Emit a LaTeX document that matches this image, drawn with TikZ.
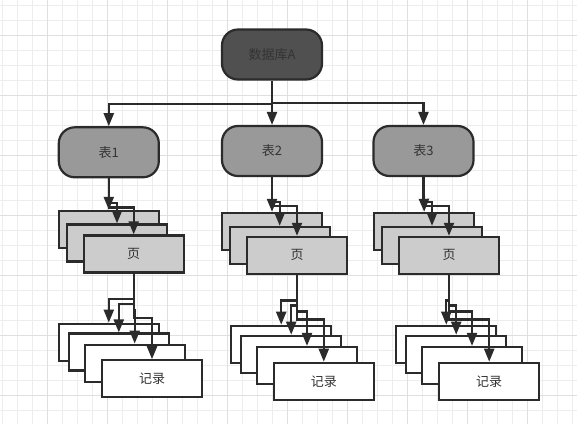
\documentclass[tikz,border=0pt]{standalone}
\usepackage{fontspec}
\setmainfont{Noto Sans CJK SC}
\usetikzlibrary{arrows.meta}
\definecolor{lc}{HTML}{2B2B2B}
\definecolor{tc}{HTML}{333333}
\definecolor{dbfill}{HTML}{505050}
\definecolor{tfill}{HTML}{999999}
\definecolor{pfill}{HTML}{CCCCCC}
\definecolor{gminor}{HTML}{EDEDED}
\definecolor{gmajor}{HTML}{DFDFDF}
\tikzset{
  base/.style={draw=lc, line width=2.2pt, text=tc, font=\fontsize{13}{15}\selectfont, inner sep=0pt},
  rbox/.style={base, rounded corners=16pt, minimum width=100pt, minimum height=50pt},
  dbbox/.style={rbox, fill=dbfill},
  tbox/.style={rbox, fill=tfill},
  pbox/.style={base, fill=pfill, minimum width=100pt, minimum height=37pt},
  recbox/.style={base, fill=white, minimum width=100pt, minimum height=37pt},
  arr/.style={draw=lc, line width=2.2pt, -{Triangle[length=13pt,width=10pt]}},
  gmin/.style={draw=gminor, line width=1pt},
  gmaj/.style={draw=gmajor, line width=1pt}
}
\begin{document}
\begin{tikzpicture}[x=1pt,y=-1pt]
\useasboundingbox (0,0) rectangle (577,424);
\fill[white] (0,0) rectangle (577,424);
\foreach \x in {2.5,17.5,...,577} \draw[gmin] (\x,0) -- (\x,424);
\foreach \y in {5,20,...,424} \draw[gmin] (0,\y) -- (577,\y);
\foreach \x in {47.5,107.5,...,577} \draw[gmaj] (\x,0) -- (\x,424);
\foreach \y in {35,95,...,424} \draw[gmaj] (0,\y) -- (577,\y);

% database and tables
\node[dbbox] (db) at (272,54.5) {数据库A};
\node[tbox] (t1) at (108.8,152.3) {表1};
\node[tbox] (t2) at (272,151) {表2};
\node[tbox] (t3) at (423.5,151) {表3};

% pages
\node[pbox] (p1a) at (108.8,229.4) {};
\node[pbox] (p1b) at (117,243) {};
\node[pbox] (p1c) at (133.7,254) {页};
\node[pbox] (p2a) at (272,231.4) {};
\node[pbox] (p2b) at (279.7,245.4) {};
\node[pbox] (p2c) at (297,255.4) {页};
\node[pbox] (p3a) at (424.2,231.4) {};
\node[pbox] (p3b) at (432,245.4) {};
\node[pbox] (p3c) at (449,255.4) {页};

% records
\node[recbox] (r1a) at (108.8,342.2) {};
\node[recbox] (r1b) at (118.8,352) {};
\node[recbox] (r1c) at (134.7,363.2) {};
\node[recbox] (r1d) at (152,378.8) {记录};
\node[recbox] (r2a) at (281.2,344.3) {};
\node[recbox] (r2b) at (291.2,354.3) {};
\node[recbox] (r2c) at (307,365.5) {};
\node[recbox] (r2d) at (323.8,381.3) {记录};
\node[recbox] (r3a) at (446.3,344.3) {};
\node[recbox] (r3b) at (456.2,354.3) {};
\node[recbox] (r3c) at (472,365.5) {};
\node[recbox] (r3d) at (489.2,381.3) {记录};

% connectors
\draw[arr] (db.south) -- ++(0,23) -| (t1.north);
\draw[arr] (db.south) -- (t2.north);
\draw[arr] (db.south) -- ++(0,22.5) -| (t3.north);

\foreach \i in {1,2,3}{
  \draw[arr] (t\i.south) -- (p\i a.north);
  \draw[arr] (t\i.south) -- ++(0,24.5) -| (p\i b.north);
  \draw[arr] (t\i.south) -- ++(0,29) -| (p\i c.north);
  \draw[arr] (p\i c.south) -- ++(0,25.5) -| (r\i a.north);
  \draw[arr] (p\i c.south) -- ++(0,30.5) -| (r\i b.north);
  \draw[arr] (p\i c.south) -- ++(0,36.5) -| (r\i c.north);
  \draw[arr] (p\i c.south) -- ++(0,44.5) -| (r\i d.north);
}
\end{tikzpicture}
\end{document}
